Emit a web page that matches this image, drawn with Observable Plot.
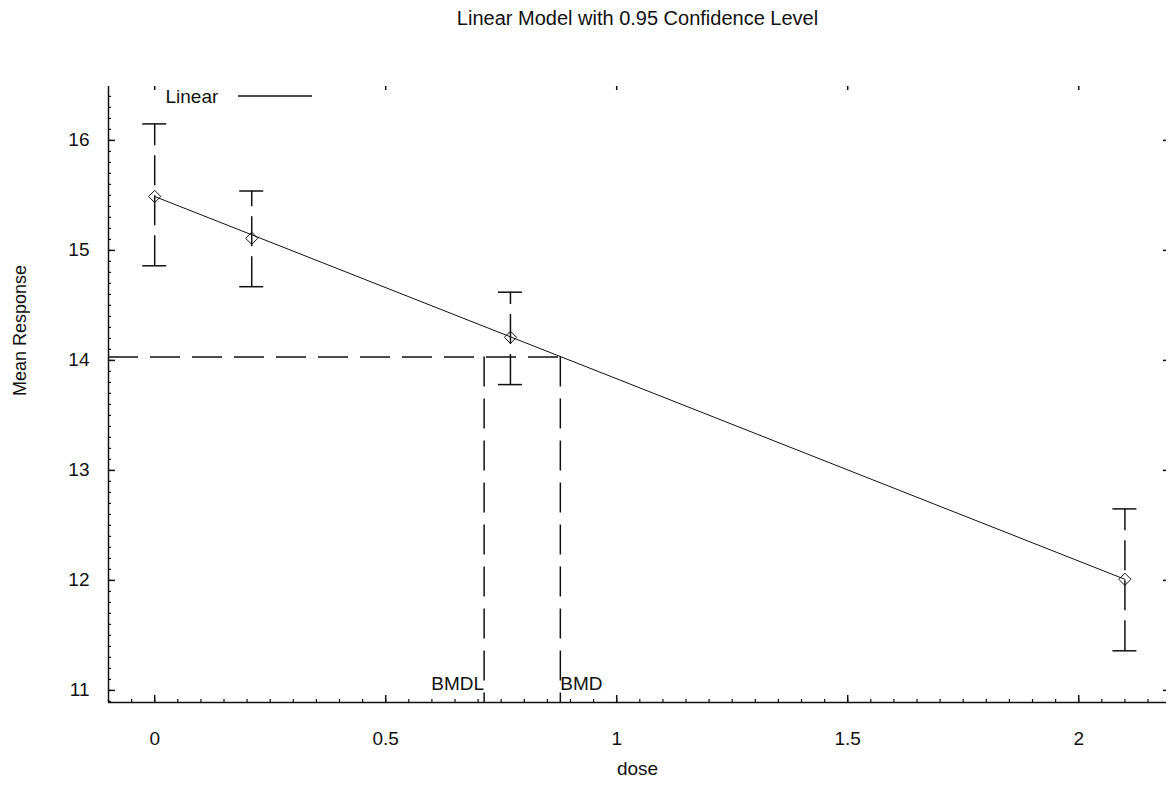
<!DOCTYPE html>
<html><head><meta charset="utf-8">
<script src="https://cdn.jsdelivr.net/npm/d3@7"></script>
<script src="https://cdn.jsdelivr.net/npm/@observablehq/plot@0.6"></script>
<style>body{margin:0;background:#fff;}</style>
</head><body><div id="chart"></div>
<script>
const title = "Linear Model with 0.95 Confidence Level";
const xLabel = "dose";
const yLabel = "Mean Response";
const legendLabel = "Linear";
const doses = [0, 0.21, 0.77, 2.1];
const meanResponse = [15.49, 15.11, 14.21, 12.01];
const lowerCI = [14.86, 14.67, 13.78, 11.36];
const upperCI = [16.15, 15.54, 14.62, 12.65];
const fitDose = [0, 2.1];
const fitResponse = [15.49, 12.01];
const bmr = 14.03;
const bmd = 0.878;
const bmdl = 0.713;
const bmdLabels = ["BMDL", "BMD"];
const xTicks = [0, 0.5, 1, 1.5, 2];
const yTicks = [11, 12, 13, 14, 15, 16];
const xDomain = [-0.1, 2.19];
const yDomain = [10.89, 16.49];

const W = 1169, H = 800;
const mL = 108, mR = 3, mT = 86, mB = 98;
const fw = W - mL - mR, fh = H - mT - mB;
const xMinor = d3.range(-2, 44).map(i => +(i * 0.05).toFixed(2)).filter(v => v >= xDomain[0] && v <= xDomain[1]);
const yMinor = d3.range(109, 165).map(i => +(i * 0.1).toFixed(1)).filter(v => v >= yDomain[0] && v <= yDomain[1]);
const idx = d3.range(doses.length);
const fitIdx = d3.range(fitDose.length);
const ink = "#111";
const font = "'Liberation Sans', Arial, sans-serif";

const chart = Plot.plot({
  width: W, height: H,
  marginLeft: mL, marginRight: mR, marginTop: mT, marginBottom: mB,
  style: {fontFamily: font, fontSize: "19px", color: ink, background: "#fff"},
  x: {domain: xDomain, axis: null},
  y: {domain: yDomain, axis: null},
  marks: [
    // axis lines
    Plot.ruleX([xDomain[0]], {stroke: ink, strokeWidth: 1.5}),
    Plot.ruleY([yDomain[0]], {stroke: ink, strokeWidth: 1.5}),
    // inward ticks
    Plot.tickX(xMinor, {x: d => d, stroke: ink, strokeWidth: 1.2, insetTop: fh - 3}),
    Plot.tickX(xTicks, {x: d => d, stroke: ink, strokeWidth: 1.5, insetTop: fh - 7}),
    Plot.tickX(xTicks, {x: d => d, stroke: ink, strokeWidth: 1.5, insetBottom: fh - 4}),
    Plot.tickY(yMinor, {y: d => d, stroke: ink, strokeWidth: 1.2, insetRight: fw - 3}),
    Plot.tickY(yTicks, {y: d => d, stroke: ink, strokeWidth: 1.5, insetRight: fw - 7}),
    Plot.tickY(yTicks, {y: d => d, stroke: ink, strokeWidth: 1.5, insetLeft: fw - 3}),
    // tick labels
    Plot.axisX({ticks: xTicks, tickSize: 0, tickPadding: 29, tickFormat: d => String(d), label: null, fontSize: 19}),
    Plot.axisY({ticks: yTicks, tickSize: 0, tickPadding: 19, tickFormat: d => String(d), label: null, fontSize: 19}),
    // error bars
    Plot.ruleX(idx, {x: i => doses[i], y1: i => lowerCI[i], y2: i => upperCI[i], stroke: ink, strokeWidth: 1.5, strokeDasharray: "30,10"}),
    Plot.ruleY(idx, {y: i => upperCI[i], x1: i => doses[i], x2: i => doses[i], insetLeft: -12, insetRight: -12, stroke: ink, strokeWidth: 1.5}),
    Plot.ruleY(idx, {y: i => lowerCI[i], x1: i => doses[i], x2: i => doses[i], insetLeft: -12, insetRight: -12, stroke: ink, strokeWidth: 1.5}),
    // BMD lines
    Plot.ruleY([bmr], {y: d => d, x1: xDomain[0], x2: bmd, stroke: ink, strokeWidth: 1.5, strokeDasharray: "30,12"}),
    Plot.ruleX([bmdl, bmd], {x: d => d, y1: bmr, y2: yDomain[0], stroke: ink, strokeWidth: 1.5, strokeDasharray: "30,12"}),
    // fit line
    Plot.line(fitIdx, {x: i => fitDose[i], y: i => fitResponse[i], stroke: ink, strokeWidth: 1}),
    // means
    Plot.dot(idx, {x: i => doses[i], y: i => meanResponse[i], symbol: "diamond2", r: 5.5, stroke: ink, strokeWidth: 1, fill: "none"}),
    // BMD labels
    Plot.text([bmdl], {x: d => d, frameAnchor: "bottom", dy: -19, lineAnchor: "middle", textAnchor: "end", text: () => bmdLabels[0], fontSize: 19, fill: ink}),
    Plot.text([bmd], {x: d => d, frameAnchor: "bottom", dy: -19, lineAnchor: "middle", textAnchor: "start", text: () => bmdLabels[1], fontSize: 19, fill: ink}),
    // title & axis labels
    Plot.text([title], {text: d => d, frameAnchor: "top", dy: -68, lineAnchor: "middle", fontSize: 20, fill: ink}),
    Plot.text([yLabel], {text: d => d, frameAnchor: "left", dx: -88, dy: -64, rotate: -90, textAnchor: "middle", lineAnchor: "middle", fontSize: 18, fill: ink}),
    Plot.text([xLabel], {text: d => d, frameAnchor: "bottom", dy: 66, lineAnchor: "middle", fontSize: 19, fill: ink}),
    // legend
    Plot.text([legendLabel], {text: d => d, frameAnchor: "top-left", dx: 57, dy: 10, lineAnchor: "middle", textAnchor: "start", fontSize: 19, fill: ink}),
    (index, scales, values, dims) => {
      const g = d3.create("svg:g");
      g.append("line")
        .attr("x1", dims.marginLeft + 130).attr("x2", dims.marginLeft + 204)
        .attr("y1", dims.marginTop + 10).attr("y2", dims.marginTop + 10)
        .attr("stroke", ink).attr("stroke-width", 1.5);
      return g.node();
    }
  ]
});
document.getElementById("chart").append(chart);
</script>
</body></html>
